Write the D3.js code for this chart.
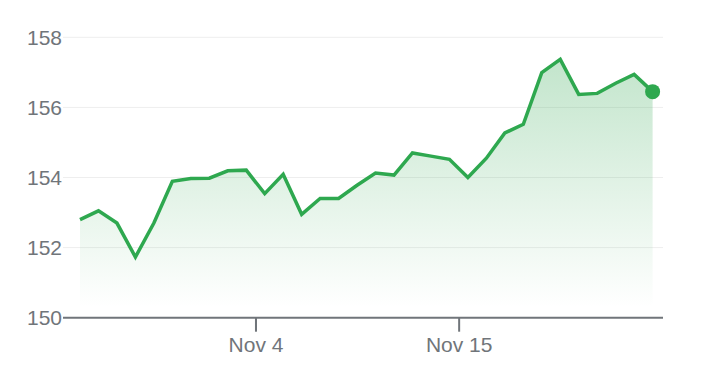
<!DOCTYPE html>
<html>
<head>
<meta charset="utf-8">
<script src="https://cdn.jsdelivr.net/npm/d3@7"></script>
<style>
  html, body { margin: 0; padding: 0; background: #fff; }
  svg { display: block; }
</style>
</head>
<body>
<svg id="chart" width="723" height="376"></svg>
<script>
// Daily values, Oct 25 – Nov 25
const startDate = "2023-10-25T12:00:00";
const values = [152.80, 153.05, 152.70, 151.73, 152.70, 153.89, 153.97, 153.98,
  154.19, 154.21, 153.54, 154.09, 152.95, 153.40, 153.40, 153.78,
  154.13, 154.07, 154.70, 154.61, 154.52, 154.00, 154.55, 155.27,
  155.52, 156.99, 157.37, 156.37, 156.40, 156.69, 156.94, 156.45];
const yTicks = [150, 152, 154, 156, 158];
const xTickDates = ["2023-11-04T00:00:00", "2023-11-15T00:00:00"];
const xTickLabels = ["Nov 4", "Nov 15"];

const t0 = new Date(startDate);
const data = values.map((v, i) => ({ date: d3.timeDay.offset(t0, i), value: v }));

const svg = d3.select("#chart");
const green = "#2ea84f";
const textColor = "#70757a";

const x = d3.scaleTime()
  .domain(d3.extent(data, d => d.date))
  .range([80, 652.6]);
const y = d3.scaleLinear().domain([150, 158]).range([317.7, 37.3]);

// gradient
const defs = svg.append("defs");
const grad = defs.append("linearGradient")
  .attr("id", "areaGrad")
  .attr("gradientUnits", "userSpaceOnUse")
  .attr("x1", 0).attr("x2", 0)
  .attr("y1", y(157.4)).attr("y2", y(150.3));
grad.append("stop").attr("offset", "0%").attr("stop-color", "#34a853").attr("stop-opacity", 0.3);
grad.append("stop").attr("offset", "100%").attr("stop-color", "#34a853").attr("stop-opacity", 0);

// gridlines
svg.append("g")
  .selectAll("line")
  .data(yTicks.filter(t => t !== 150))
  .join("line")
  .attr("x1", 63).attr("x2", 663)
  .attr("y1", d => y(d)).attr("y2", d => y(d))
  .attr("stroke", "#eeeeee")
  .attr("stroke-width", 1);

// area
const area = d3.area()
  .x(d => x(d.date))
  .y0(y(150))
  .y1(d => y(d.value));
svg.append("path")
  .datum(data)
  .attr("d", area)
  .attr("fill", "url(#areaGrad)");

// line
const line = d3.line()
  .x(d => x(d.date))
  .y(d => y(d.value));
svg.append("path")
  .datum(data)
  .attr("d", line)
  .attr("fill", "none")
  .attr("stroke", green)
  .attr("stroke-width", 3.5)
  .attr("stroke-linejoin", "miter")
  .attr("stroke-linecap", "butt");

// end dot
const last = data[data.length - 1];
svg.append("circle")
  .attr("cx", x(last.date))
  .attr("cy", y(last.value))
  .attr("r", 7.5)
  .attr("fill", green);

// y axis labels
svg.append("g")
  .selectAll("text")
  .data(yTicks)
  .join("text")
  .attr("x", 62)
  .attr("y", d => y(d))
  .attr("dy", "0.36em")
  .attr("text-anchor", "end")
  .attr("font-family", "Arial, 'Liberation Sans', sans-serif")
  .attr("font-size", 21)
  .attr("fill", textColor)
  .text(d => d);

// x axis
const xAxis = d3.axisBottom(x)
  .tickValues(xTickDates.map(d => new Date(d)))
  .tickFormat((d, i) => xTickLabels[i])
  .tickSize(14)
  .tickPadding(5)
  .tickSizeOuter(0);
const gx = svg.append("g")
  .attr("transform", `translate(0,${y(150)})`)
  .call(xAxis);
gx.select(".domain").remove();
gx.append("line")
  .attr("x1", 63).attr("x2", 663)
  .attr("y1", 0).attr("y2", 0)
  .attr("stroke", textColor)
  .attr("stroke-width", 2);
gx.selectAll(".tick line").attr("stroke", textColor).attr("stroke-width", 2);
gx.selectAll(".tick text")
  .attr("font-family", "Arial, 'Liberation Sans', sans-serif")
  .attr("font-size", 21)
  .attr("fill", textColor);
</script>
</body>
</html>
